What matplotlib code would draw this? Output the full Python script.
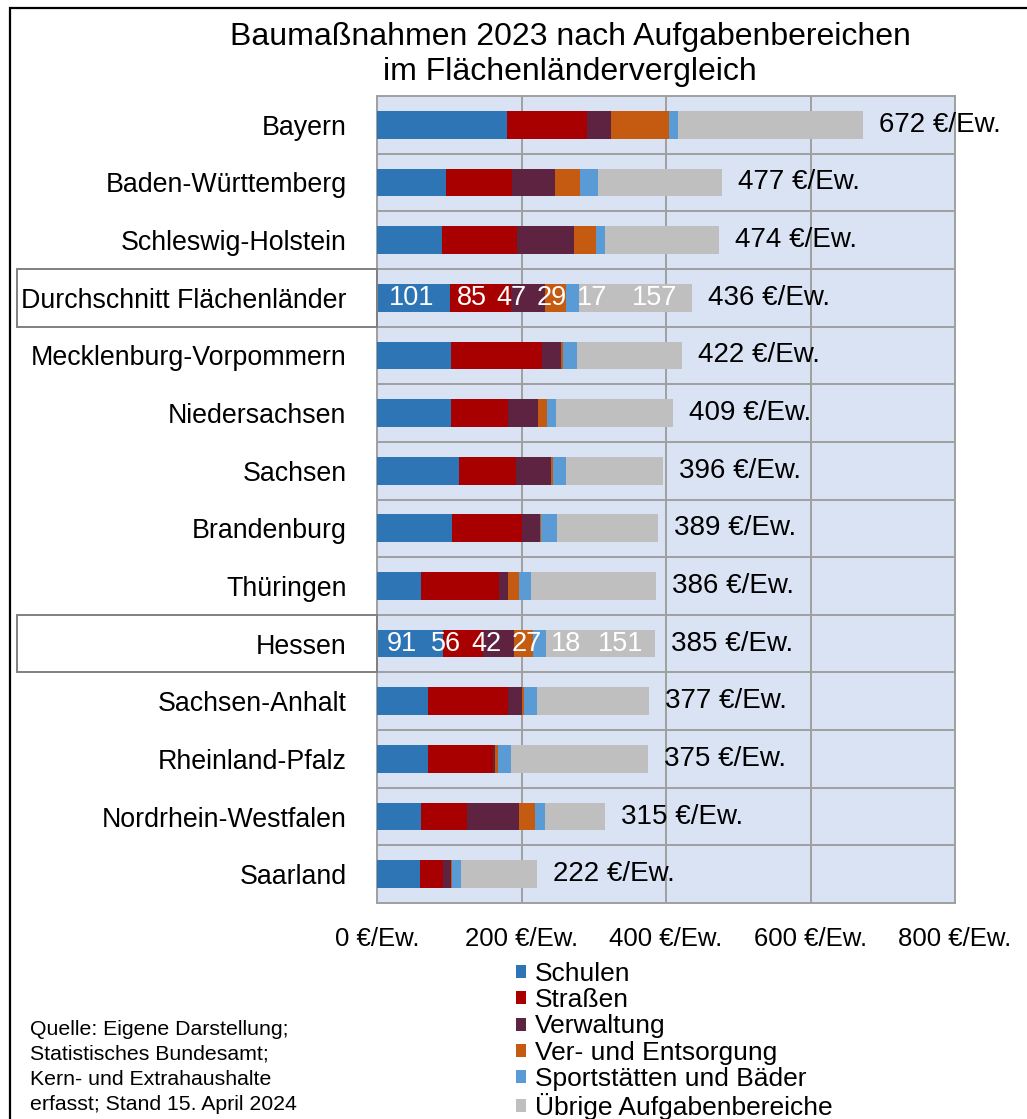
import matplotlib
matplotlib.use("Agg")
import matplotlib.pyplot as plt
import matplotlib.transforms as mtransforms
from matplotlib.patches import Rectangle
import numpy as np

plt.rcParams['font.family'] = ['Liberation Sans', 'DejaVu Sans']

categories = ["Bayern", "Baden-Württemberg", "Schleswig-Holstein", "Durchschnitt Flächenländer",
              "Mecklenburg-Vorpommern", "Niedersachsen", "Sachsen", "Brandenburg", "Thüringen",
              "Hessen", "Sachsen-Anhalt", "Rheinland-Pfalz", "Nordrhein-Westfalen", "Saarland"]
series_names = ["Schulen", "Straßen", "Verwaltung", "Ver- und Entsorgung",
                "Sportstätten und Bäder", "Übrige Aufgabenbereiche"]
schulen      = [180,  96,  90, 101, 102, 102, 114, 104,  61,  91,  70,  70,  61,  60]
strassen     = [111,  91, 104,  85, 126,  79,  79,  96, 108,  56, 111,  91,  64,  31]
verwaltung   = [ 33,  59,  79,  47,  27,  42,  48,  26,  13,  42,  19,   2,  72,  12]
versorgung   = [ 80,  35,  30,  29,   3,  12,   3,   1,  14,  27,   3,   4,  21,   1]
sport        = [ 13,  25,  12,  17,  19,  13,  17,  22,  17,  18,  18,  18,  15,  12]
uebrige      = [255, 171, 159, 157, 145, 161, 135, 140, 173, 151, 156, 190,  82, 106]
totals       = [672, 477, 474, 436, 422, 409, 396, 389, 386, 385, 377, 375, 315, 222]
xticks_vals  = [0, 200, 400, 600, 800]
highlighted  = ["Durchschnitt Flächenländer", "Hessen"]

colors = ["#2E75B6", "#A80000", "#5E2340", "#C55A11", "#5B9BD5", "#BFBFBF"]
# label nudges (data units) for inside-bar labels, mimicking the original placement
label_nudges = {"Durchschnitt Flächenländer": [-3, -12.5, -23, -6, 27.5, 27],
                "Hessen": [-10.5, -24, -16.5, 5, 36, 28]}

data = np.array([schulen, strassen, verwaltung, versorgung, sport, uebrige], dtype=float)

W, H = 1027, 1119
fig = plt.figure(figsize=(W / 100, H / 100), dpi=100)
fig.patch.set_facecolor("white")
ax = fig.add_axes([377 / W, 1 - 903 / H, (955 - 377) / W, (903 - 96) / H])
ax.set_facecolor("#DAE3F3")

y = np.arange(len(categories))
left = np.zeros(len(categories))
bar_h = 0.48
for i, name in enumerate(series_names):
    ax.barh(y, data[i], left=left, height=bar_h, color=colors[i], label=name,
            edgecolor="none", zorder=3)
    left += data[i]

ax.set_xlim(0, 800)
ax.set_ylim(len(categories) - 0.5, -0.5)

# grid
ax.set_xticks(xticks_vals)
ax.set_xticklabels([f"{v} €/Ew." for v in xticks_vals], fontsize=18.5)
ax.set_yticks(y)
ax.set_yticklabels(categories, fontsize=19.3)
ax.set_yticks(np.arange(len(categories) + 1) - 0.5, minor=True)
ax.tick_params(axis="both", which="both", length=0)
ax.tick_params(axis="y", pad=22)
ax.tick_params(axis="x", pad=17)
ax.grid(axis="x", which="major", color="#A0A0A0", linewidth=1.4, zorder=1)
ax.grid(axis="y", which="minor", color="#A0A0A0", linewidth=1.4, zorder=1)
ax.grid(axis="y", which="major", visible=False)
for sp in ax.spines.values():
    sp.set_color("#A0A0A0")
    sp.set_linewidth(1.4)

# totals
for i, t in enumerate(totals):
    ax.annotate(f"{t} €/Ew.", xy=(t, i), xytext=(16, 0), textcoords="offset pixels",
                ha="left", va="center", fontsize=20, color="black", zorder=5,
                annotation_clip=False)

# inside labels for highlighted rows
for cat in highlighted:
    i = categories.index(cat)
    cum = 0.0
    for k in range(len(series_names)):
        v = data[k, i]
        cx = cum + v / 2 + label_nudges[cat][k]
        ax.text(cx, i, f"{int(v)}", ha="center", va="center", fontsize=19.5,
                color="white", zorder=6)
        cum += v
    trans = mtransforms.blended_transform_factory(ax.transAxes, ax.transData)
    ax.add_patch(Rectangle((-(377 - 17) / (955 - 377), i - 0.5), (377 - 17) / (955 - 377), 1.0,
                           transform=trans, fill=False, edgecolor="#808080",
                           linewidth=1.4, clip_on=False, zorder=4))

# title
fig.text(570 / W, 1 - 37 / H, "Baumaßnahmen 2023 nach Aufgabenbereichen",
         ha="center", va="center", fontsize=23)
fig.text(570 / W, 1 - 72 / H, "im Flächenländervergleich",
         ha="center", va="center", fontsize=23)

# legend
leg = fig.legend(loc="upper left", bbox_to_anchor=(516 / W, 1 - 962 / H), frameon=False,
                 fontsize=19, handlelength=0.38, handleheight=0.38, handletextpad=0.35,
                 labelspacing=0.085, borderpad=0, borderaxespad=0)

# footnote
fig.text(30 / W, 1 - 1020 / H,
         "Quelle: Eigene Darstellung;\nStatistisches Bundesamt;\nKern- und Extrahaushalte\nerfasst; Stand 15. April 2024",
         ha="left", va="top", fontsize=15.3, linespacing=1.4)

# outer frame (cropped at right and bottom)
fig.patches.append(Rectangle((10 / W, -0.05), 1.2, 1 - 8 / H + 0.05, transform=fig.transFigure,
                             fill=False, edgecolor="black", linewidth=1.6, zorder=0))

fig.savefig("out.png", dpi=100)
